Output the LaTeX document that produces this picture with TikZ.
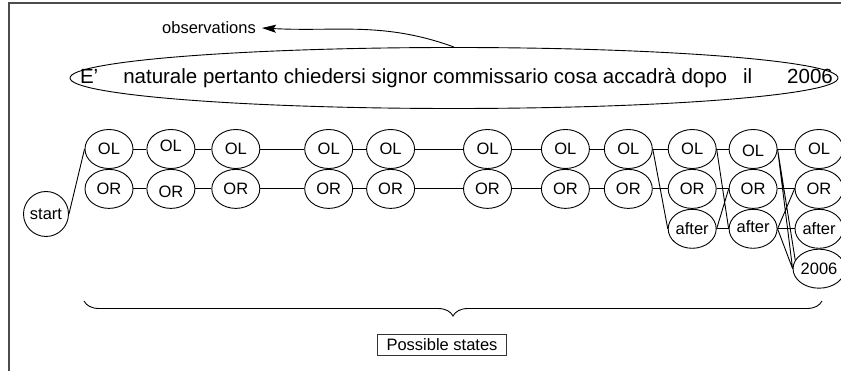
\documentclass[tikz,border=0pt]{standalone}
\usepackage{fontspec}
\setmainfont{Liberation Sans}
\usetikzlibrary{arrows.meta,positioning,shapes.geometric,decorations.pathreplacing}
\tikzset{
  state/.style={draw, ellipse, line width=0.9pt, minimum width=48pt, minimum height=39pt, inner sep=0pt, text height=11.8pt, text depth=0pt, font=\fontsize{16.5}{19}\selectfont},
  startstate/.style={draw, circle, line width=0.9pt, minimum size=45pt, inner sep=0pt, font=\fontsize{16.5}{19}\selectfont},
  sentence/.style={draw, ellipse, line width=0.9pt, minimum width=768pt, minimum height=61pt, inner sep=0pt},
  note/.style={draw=black!80, line width=0.7pt, inner xsep=9pt, inner ysep=4.5pt, font=\fontsize{16.5}{19}\selectfont},
  link/.style={line width=0.9pt, draw=black},
  flow/.style={-{Stealth[length=14pt, width=8pt, inset=2.5pt]}, line width=0.9pt, draw=black},
  span/.style={decorate, decoration={brace, mirror, amplitude=15pt}, line width=0.9pt},
  frame/.style={line width=1.2pt, draw=black!70}
}
\begin{document}
\begin{tikzpicture}[x=1pt, y=-1pt]
  \useasboundingbox (0,0) rectangle (841,371);
  \draw[frame] (9,371) -- (9,3) -- (841,3);

  \node[sentence] (sent) at (454,78) {};
  \node[font=\fontsize{20.5}{24}\selectfont, xshift=2.5pt] (words) at (sent.center) {E'\hspace{25pt}naturale pertanto chiedersi signor commissario cosa accadrà dopo\hspace{16pt}il\hspace{35pt}2006};
  \node[font=\fontsize{16.5}{19}\selectfont, inner xsep=6pt] (obs) at (209,28) {observations};
  \draw[flow] (sent.north) to[out=160, in=-3] (obs.east);

  \node[startstate] (start) at (46,214) {start};
  \node[state] (ol1) at (109,149) {OL};
  \node[state, right=13pt of ol1] (ol2) {\raisebox{3pt}{OL}};
  \node[state, right=16pt of ol2] (ol3) {OL};
  \node[state, right=44pt of ol3] (ol4) {OL};
  \node[state, right=13pt of ol4] (ol5) {OL};
  \node[state, right=48pt of ol5] (ol6) {OL};
  \node[state, right=29pt of ol6] (ol7) {OL};
  \node[state, right=14pt of ol7] (ol8) {OL};
  \node[state, right=15pt of ol8] (ol9) {OL};
  \node[state, right=12pt of ol9] (ol10) {\raisebox{-2pt}{OL}};
  \node[state, right=17pt of ol10] (ol11) {OL};
  \node[state, below=0pt of ol1] (or1) {OR};
  \node[state, below=0pt of ol2] (or2) {\raisebox{-3pt}{OR}};
  \node[state, below=0pt of ol3] (or3) {OR};
  \node[state, below=0pt of ol4] (or4) {OR};
  \node[state, below=0pt of ol5] (or5) {OR};
  \node[state, below=0pt of ol6] (or6) {OR};
  \node[state, below=0pt of ol7] (or7) {OR};
  \node[state, below=0pt of ol8] (or8) {OR};
  \node[state, below=0pt of ol9] (or9) {OR};
  \node[state, below=0pt of ol10] (or10) {OR};
  \node[state, below=0pt of ol11] (or11) {OR};
  \node[state, below=0pt of or9] (af9) {after};
  \node[state, below=0pt of or10] (af10) {\raisebox{2pt}{after}};
  \node[state, below=0pt of or11] (af11) {after};
  \node[state, below=0pt of af11] (yr11) {2006};

  \draw[link] (start.east) -- (ol1.west);
  \draw[link] (ol1) -- (ol2) (ol2) -- (ol3) (ol3) -- (ol4) (ol4) -- (ol5) (ol5) -- (ol6)
    (ol6) -- (ol7) (ol7) -- (ol8) (ol8) -- (ol9) (ol9) -- (ol10) (ol10) -- (ol11);
  \draw[link] (or1) -- (or2) (or2) -- (or3) (or3) -- (or4) (or4) -- (or5) (or5) -- (or6)
    (or6) -- (or7) (or7) -- (or8) (or8) -- (or9) (or9) -- (or10) (or10) -- (or11);
  \draw[link] (af9) -- (af10) (af10) -- (af11);
  \draw[link] (ol8.east) -- (af9.west);
  \draw[link] (ol9.east) -- (af10.west) (af9.east) -- (or10.west);
  \draw[link] (ol10.east) -- (yr11.west) (ol10.east) -- (yr11.160)
    (af10.east) -- (or11.west) (af10.east) -- (yr11.west);

  \coordinate (bl) at (84,301);
  \coordinate (br) at (822,301);
  \draw[span] (bl) -- (br);
  \node[note] (poss) at (442,345) {Possible states};
\end{tikzpicture}
\end{document}
